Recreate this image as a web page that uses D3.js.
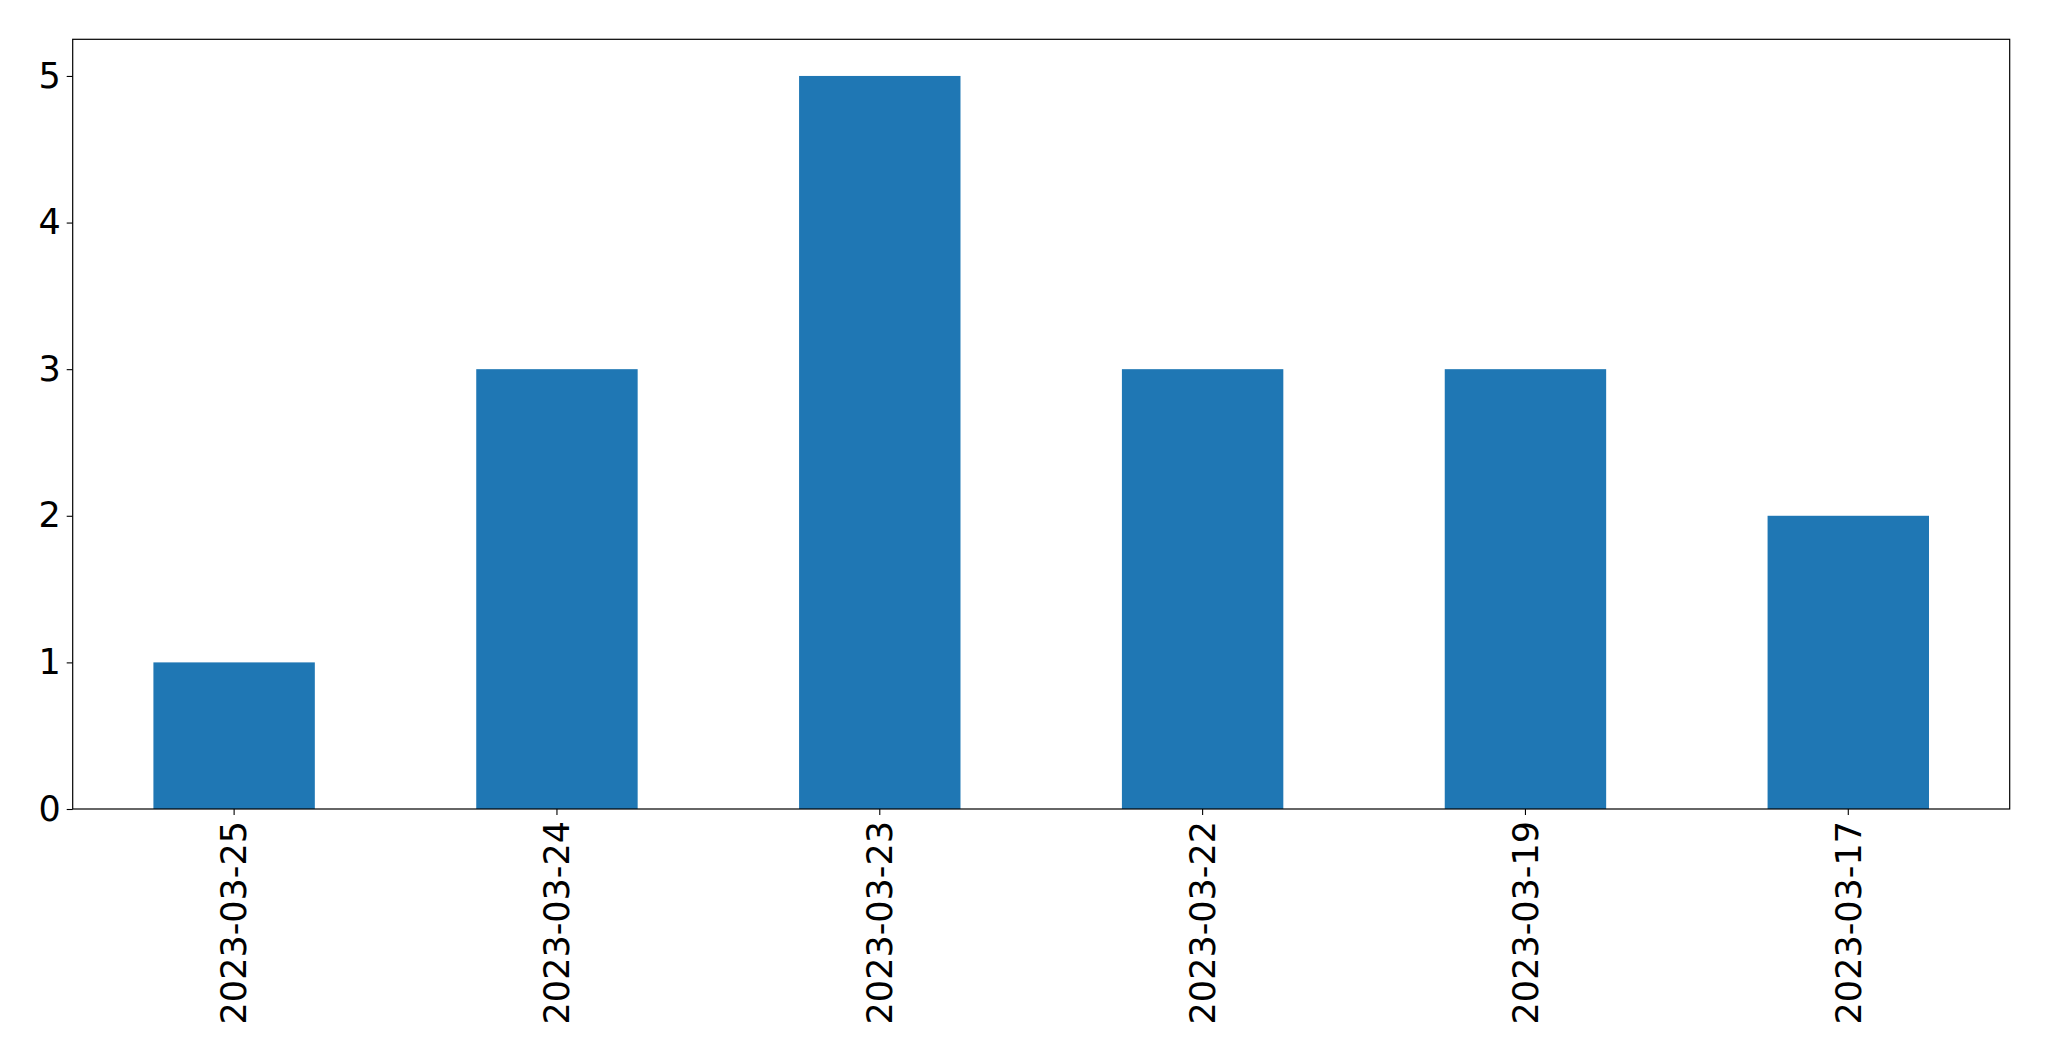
<!DOCTYPE html>
<html>
<head>
<meta charset="utf-8">
<script src="https://cdn.jsdelivr.net/npm/d3@7/dist/d3.min.js"></script>
<style>
  html, body { margin: 0; padding: 0; background: #fff; }
  svg { display: block; }
  text { font-family: "DejaVu Sans", sans-serif; }
</style>
</head>
<body>
<script>
const categories = ["2023-03-25", "2023-03-24", "2023-03-23", "2023-03-22", "2023-03-19", "2023-03-17"];
const values = [1, 3, 5, 3, 3, 2];
const yTicks = [0, 1, 2, 3, 4, 5];

const W = 2049, H = 1061;
const margin = { left: 72.7, top: 39.3, right: W - 2009.7, bottom: H - 809 };
const iw = W - margin.left - margin.right;
const ih = H - margin.top - margin.bottom;

const svg = d3.select("body").append("svg").attr("width", W).attr("height", H);
const g = svg.append("g").attr("transform", `translate(${margin.left},${margin.top})`);

const x = d3.scaleBand().domain(categories).range([0, iw]).paddingInner(0.5).paddingOuter(0.25);
const y = d3.scaleLinear().domain([0, 5.25]).range([ih, 0]);

g.selectAll("rect.bar").data(values).join("rect")
  .attr("class", "bar")
  .attr("x", (d, i) => x(categories[i]))
  .attr("width", x.bandwidth())
  .attr("y", d => y(d))
  .attr("height", d => y(0) - y(d))
  .attr("fill", "#1f77b4");

const fs = 35;
const yAxis = g.append("g").call(d3.axisLeft(y).tickValues(yTicks).tickFormat(d3.format("d")).tickSize(6).tickPadding(6));
yAxis.select(".domain").remove();
yAxis.selectAll("text").style("font-size", fs + "px").attr("fill", "#000");
yAxis.selectAll("line").attr("stroke", "#000").attr("stroke-width", 1.1);

const xAxis = g.append("g").attr("transform", `translate(0,${ih})`)
  .call(d3.axisBottom(x).tickSize(6).tickPadding(0));
xAxis.select(".domain").remove();
xAxis.selectAll("line").attr("stroke", "#000").attr("stroke-width", 1.1);
xAxis.selectAll("text")
  .style("font-size", fs + "px").attr("fill", "#000")
  .attr("transform", "rotate(-90)")
  .attr("x", -12).attr("y", 0).attr("dy", "0.35em")
  .attr("text-anchor", "end");

g.append("rect").attr("x", 0).attr("y", 0).attr("width", iw).attr("height", ih)
  .attr("fill", "none").attr("stroke", "#000").attr("stroke-width", 1.2);
</script>
</body>
</html>
